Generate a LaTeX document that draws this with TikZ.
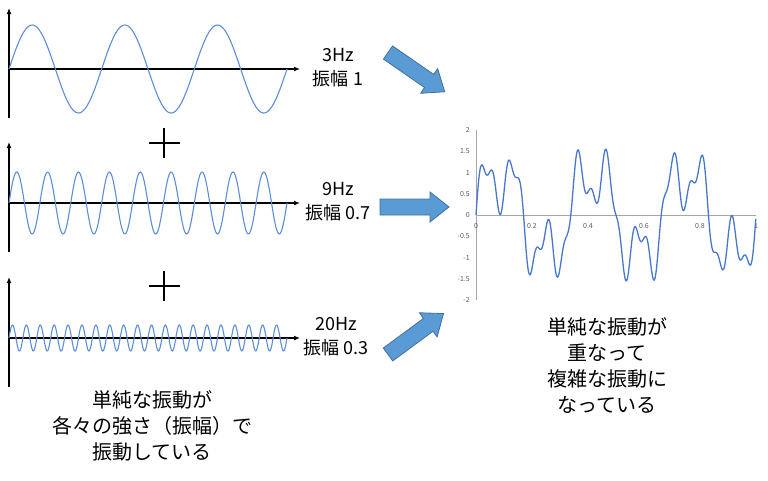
\documentclass[tikz,border=0pt]{standalone}
\usepackage{fontspec}
\setmainfont{Noto Sans CJK JP}
\usetikzlibrary{arrows.meta}

\definecolor{wavecol}{RGB}{91,141,216}
\definecolor{curvecol}{RGB}{72,120,205}
\definecolor{arrowfill}{RGB}{91,155,213}
\definecolor{arrowedge}{RGB}{65,113,156}
\definecolor{gridgray}{RGB}{166,166,166}
\definecolor{ticktext}{RGB}{89,89,89}

\begin{document}
\begin{tikzpicture}[x=1pt, y=-1pt,
  axis/.style={line width=1.2pt, -{Latex[length=6pt,width=5pt]}},
  wave/.style={wavecol, line width=1.1pt},
  plussign/.style={line width=2.4pt},
  freq/.style={align=center, font=\fontsize{18}{24}\selectfont, inner sep=0pt},
  note/.style={align=center, font=\fontsize{20}{26}\selectfont, inner sep=0pt},
  tick/.style={font=\fontsize{7}{8}\selectfont, text=ticktext, inner sep=1pt},
  blockarr/.pic={\draw[arrowedge, fill=arrowfill, line width=0.8pt] (0,-8) -- (50,-8) -- (50,-15) -- (69,0) -- (50,15) -- (50,8) -- (0,8) -- cycle;}]
  \useasboundingbox (0,0) rectangle (768,480);

  % three simple waves
  \foreach \yo/\amp/\n/\s [count=\i] in {69/44/3/200, 203/31/9/300, 338/13/20/600} {
    \coordinate (orig\i) at (9,\yo);
    \coordinate (ytop\i) at (9,\yo-61);
    \coordinate (ybot\i) at (9,\yo+49);
    \coordinate (xend\i) at (300,\yo);
    \draw[axis] (ybot\i) -- (ytop\i);
    \draw[axis] (orig\i) -- (xend\i);
    \draw[wave] plot[domain=0:278, samples=\s] ({9+\x},{\yo-\amp*sin(\n*360/278*\x)});
  }

  % plus signs
  \draw[plussign] (149,143) -- (180,143) (164,128) -- (164,158);
  \draw[plussign] (149,286) -- (180,286) (164,271) -- (164,301);

  % labels
  \node[freq] (f3) at (338,68) {3Hz\\振幅 1};
  \node[freq] (f9) at (338,202) {9Hz\\振幅 0.7};
  \node[freq] (f20) at (336,337) {20Hz\\振幅 0.3};

  \node[note] (simple) at (152,426) {単純な振動が\\各々の強さ（振幅）で\\振動している};
  \node[note] (complex) at (607,366) {単純な振動が\\重なって\\複雑な振動に\\なっている};

  % block arrows
  \pic[rotate=-34.7] (arr3) at (388,52.5) {blockarr};
  \pic (arr9) at (380,207) {blockarr};
  \pic[rotate=36.4] (arr20) at (388,354.5) {blockarr};

  % sum chart
  \draw[gridgray, line width=1pt] (476,130) -- (476,300);
  \draw[gridgray, line width=1pt] (476,215) -- (756,215);
  \foreach \v [count=\i] in {2,1.5,1,0.5,0,-0.5,-1,-1.5,-2}
    \node[tick, anchor=east] (ytick\i) at (471,{215-42.5*\v}) {\v};
  \foreach \t [count=\i] in {0,0.2,0.4,0.6,0.8,1}
    \node[tick] (xtick\i) at ({476+280*\t},226) {\t};
  \draw[curvecol, line width=1.3pt] plot[domain=0:1, samples=700]
    ({476+280*\x},{215-42.5*(sin(1080*\x)+0.7*sin(3240*\x)+0.3*sin(7200*\x))});
\end{tikzpicture}
\end{document}
